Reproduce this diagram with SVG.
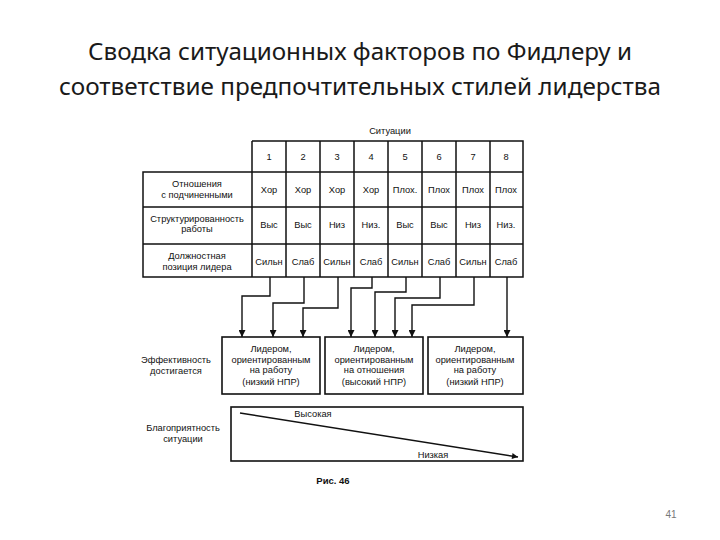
<svg xmlns="http://www.w3.org/2000/svg" width="720" height="540" viewBox="0 0 720 540">
<defs>
<style>
.title{font-family:"Noto Sans","Open Sans","Liberation Sans",sans-serif;font-size:23px;fill:#1a1a1a;text-anchor:middle}
.t{font-family:"Liberation Sans",Arial,sans-serif;font-size:9.3px;fill:#111;text-anchor:middle}
.l{fill:none;stroke:#111;stroke-width:1.5}
.c{fill:none;stroke:#111;stroke-width:1.4}
.b{fill:#fff;stroke:#111;stroke-width:1.6}
</style>
<marker id="ah" viewBox="0 0 10 10" refX="10" refY="5" markerWidth="8" markerHeight="7" markerUnits="userSpaceOnUse" orient="auto">
<path d="M0,0 L10,5 L0,10 z" fill="#111"/>
</marker>
<marker id="ah2" viewBox="0 0 10 10" refX="10" refY="5" markerWidth="9" markerHeight="6" markerUnits="userSpaceOnUse" orient="auto">
<path d="M0,0 L10,5 L0,10 z" fill="#111"/>
</marker>
</defs>
<rect width="720" height="540" fill="#fff"/>

<g id="title">
<text class="title" x="360" y="60" textLength="544" lengthAdjust="spacingAndGlyphs">Сводка ситуационных факторов по Фидлеру и</text>
<text class="title" x="360" y="95" textLength="602" lengthAdjust="spacingAndGlyphs">соответствие предпочтительных стилей лидерства</text>
</g>

<g id="table">
<text class="t" x="390" y="134">Ситуации</text>
<path class="l" d="M252,141 H523 V277 H143 V172 H523 M143,207 H523 M143,244 H523 M252,141 V277 M286,141 V277 M320,141 V277 M354,141 V277 M388,141 V277 M422,141 V277 M456,141 V277 M490,141 V277"/>
<g id="head">
<text class="t" x="269" y="160">1</text>
<text class="t" x="303" y="160">2</text>
<text class="t" x="337" y="160">3</text>
<text class="t" x="371" y="160">4</text>
<text class="t" x="405" y="160">5</text>
<text class="t" x="439" y="160">6</text>
<text class="t" x="473" y="160">7</text>
<text class="t" x="506" y="160">8</text>
</g>
<g id="row1">
<text class="t" x="197" y="187">Отношения</text>
<text class="t" x="197" y="198">с подчиненными</text>
<text class="t" x="269" y="193">Хор</text>
<text class="t" x="303" y="193">Хор</text>
<text class="t" x="337" y="193">Хор</text>
<text class="t" x="371" y="193">Хор</text>
<text class="t" x="405" y="193">Плох.</text>
<text class="t" x="439" y="193">Плох</text>
<text class="t" x="473" y="193">Плох</text>
<text class="t" x="506" y="193">Плох</text>
</g>
<g id="row2">
<text class="t" x="197" y="222">Структурированность</text>
<text class="t" x="197" y="232">работы</text>
<text class="t" x="269" y="228">Выс</text>
<text class="t" x="303" y="228">Выс</text>
<text class="t" x="337" y="228">Низ</text>
<text class="t" x="371" y="228">Низ.</text>
<text class="t" x="405" y="228">Выс</text>
<text class="t" x="439" y="228">Выс</text>
<text class="t" x="473" y="228">Низ</text>
<text class="t" x="506" y="228">Низ.</text>
</g>
<g id="row3">
<text class="t" x="197" y="259">Должностная</text>
<text class="t" x="197" y="270">позиция лидера</text>
<text class="t" x="269" y="265">Сильн</text>
<text class="t" x="303" y="265">Слаб</text>
<text class="t" x="337" y="265">Сильн</text>
<text class="t" x="371" y="265">Слаб</text>
<text class="t" x="405" y="265">Сильн</text>
<text class="t" x="439" y="265">Слаб</text>
<text class="t" x="473" y="265">Сильн</text>
<text class="t" x="506" y="265">Слаб</text>
</g>
</g>

<g id="connectors">
<path class="c" marker-end="url(#ah)" d="M270,277 V296 H242 V337"/>
<path class="c" marker-end="url(#ah)" d="M304,277 V303 H273 V337"/>
<path class="c" marker-end="url(#ah)" d="M338,277 V308 H303 V337"/>
<path class="c" marker-end="url(#ah)" d="M372,277 V288 H351 V337"/>
<path class="c" marker-end="url(#ah)" d="M406,277 V292 H375 V337"/>
<path class="c" marker-end="url(#ah)" d="M440,277 V298 H395 V337"/>
<path class="c" marker-end="url(#ah)" d="M474,277 V305 H412 V337"/>
<path class="c" marker-end="url(#ah)" d="M507,277 V337"/>
</g>

<g id="effect-label">
<text class="t" x="176" y="363">Эффективность</text>
<text class="t" x="176" y="374">достигается</text>
</g>

<g id="box1">
<rect class="b" x="222" y="337" width="98" height="57"/>
<text class="t" x="271" y="352">Лидером,</text>
<text class="t" x="271" y="363">ориентированным</text>
<text class="t" x="271" y="373">на работу</text>
<text class="t" x="271" y="385">(низкий НПР)</text>
</g>
<g id="box2">
<rect class="b" x="325" y="337" width="98" height="57"/>
<text class="t" x="374" y="352">Лидером,</text>
<text class="t" x="374" y="363">ориентированным</text>
<text class="t" x="374" y="373">на отношения</text>
<text class="t" x="374" y="385">(высокий НПР)</text>
</g>
<g id="box3">
<rect class="b" x="428" y="337" width="95" height="57"/>
<text class="t" x="475" y="352">Лидером,</text>
<text class="t" x="475" y="363">ориентированным</text>
<text class="t" x="475" y="373">на работу</text>
<text class="t" x="475" y="385">(низкий НПР)</text>
</g>

<g id="favor-label">
<text class="t" x="183" y="431">Благоприятность</text>
<text class="t" x="183" y="442">ситуации</text>
</g>
<g id="favor">
<rect class="b" x="231" y="407" width="292" height="54"/>
<path class="c" marker-end="url(#ah2)" d="M240,413 L518,457"/>
<text class="t" x="313" y="417">Высокая</text>
<text class="t" x="433" y="458">Низкая</text>
</g>

<text x="333" y="484" style="font-family:'Liberation Sans',Arial,sans-serif;font-size:9.5px;font-weight:bold;fill:#111;text-anchor:middle">Рис. 46</text>
<text x="671" y="518" style="font-family:'Liberation Sans',Arial,sans-serif;font-size:10px;fill:#777;text-anchor:middle">41</text>
</svg>
